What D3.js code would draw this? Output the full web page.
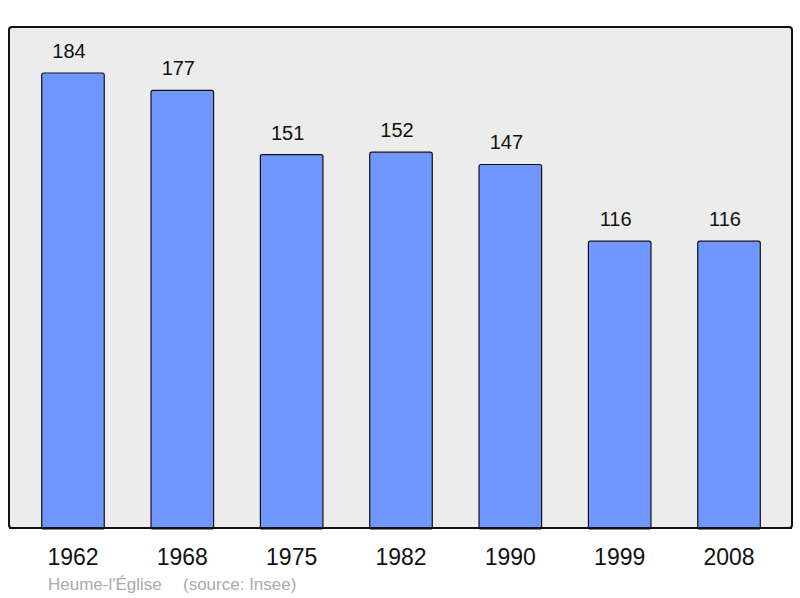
<!DOCTYPE html>
<html lang="en">
<head>
<meta charset="utf-8">
<title>Heume-l'Église population</title>
<script src="https://cdn.jsdelivr.net/npm/d3@7"></script>
<style>
  body { margin: 0; background: #fff; }
  text { font-family: "Liberation Sans", Arial, sans-serif; }
</style>
</head>
<body>
<script>
const years = ["1962", "1968", "1975", "1982", "1990", "1999", "2008"];
const population = [184, 177, 151, 152, 147, 116, 116];
const commune = "Heume-l'Église";
const source = "(source: Insee)";

const w = 800, h = 598;
const frame = { left: 9, top: 27, right: 792, bottom: 528 };

const svg = d3.select("body").append("svg")
  .attr("width", w)
  .attr("height", h);

svg.append("rect")
  .attr("x", frame.left)
  .attr("y", frame.top)
  .attr("width", frame.right - frame.left)
  .attr("height", frame.bottom - frame.top)
  .attr("rx", 3)
  .attr("fill", "#ececec")
  .attr("stroke", "#111")
  .attr("stroke-width", 2);

const x = d3.scaleBand()
  .domain(years)
  .range([frame.left + 1, frame.right])
  .paddingInner(0.428)
  .paddingOuter(0.29);

const y = d3.scaleLinear()
  .domain([0, 184])
  .range([frame.bottom, 73]);

const data = years.map((yr, i) => ({ year: yr, value: population[i] }));

svg.selectAll("rect.bar")
  .data(data)
  .enter()
  .append("rect")
  .attr("class", "bar")
  .attr("x", d => x(d.year))
  .attr("y", d => y(d.value))
  .attr("width", x.bandwidth())
  .attr("height", d => frame.bottom - y(d.value) + 1)
  .attr("rx", 2)
  .attr("fill", "#7097ff")
  .attr("stroke", "#111")
  .attr("stroke-width", 1.2);

// value labels sit a little left of the bar centre in the original
svg.selectAll("text.val")
  .data(data)
  .enter()
  .append("text")
  .attr("class", "val")
  .attr("x", d => x(d.year) + x.bandwidth() / 2 - 4)
  .attr("y", d => y(d.value) - 15)
  .attr("text-anchor", "middle")
  .attr("font-size", "20px")
  .attr("fill", "#111")
  .text(d => d.value);

svg.append("line")
  .attr("x1", frame.left).attr("x2", frame.right)
  .attr("y1", frame.bottom).attr("y2", frame.bottom)
  .attr("stroke", "#111").attr("stroke-width", 2);

svg.selectAll("text.year")
  .data(years)
  .enter()
  .append("text")
  .attr("class", "year")
  .attr("x", d => x(d) + x.bandwidth() / 2)
  .attr("y", 565)
  .attr("text-anchor", "middle")
  .attr("font-size", "23px")
  .attr("fill", "#111")
  .text(d => d);

svg.append("text")
  .attr("x", 48)
  .attr("y", 590)
  .attr("font-size", "17px")
  .attr("fill", "#aaa")
  .text(commune);

svg.append("text")
  .attr("x", 183)
  .attr("y", 590)
  .attr("font-size", "17px")
  .attr("fill", "#aaa")
  .text(source);
</script>
</body>
</html>
